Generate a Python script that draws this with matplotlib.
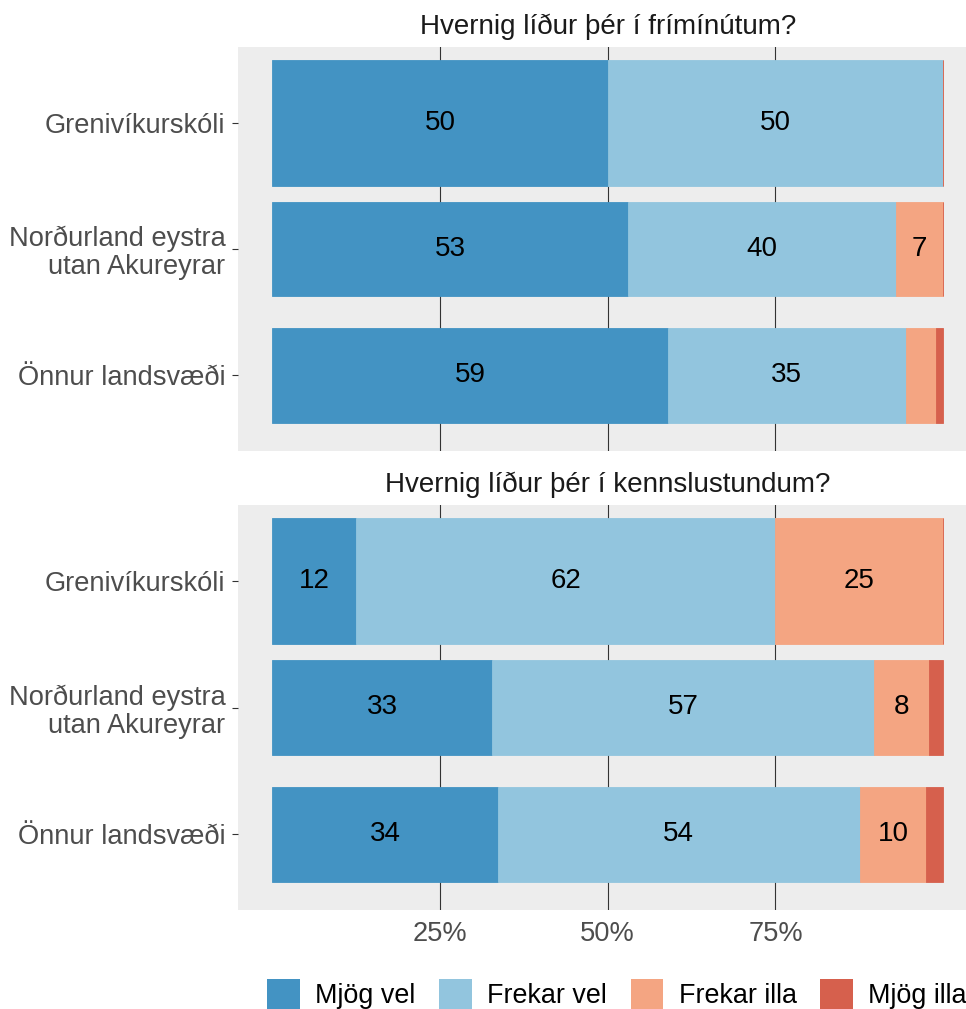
import matplotlib.pyplot as plt
import numpy as np
from matplotlib.patches import Patch
from matplotlib.transforms import blended_transform_factory

# ------------------------------------------------------------
# tvö spurningaspjöld, stöflaðar láréttar súlur (hlutfall %)
# ------------------------------------------------------------

plt.rcParams['font.family'] = ['Liberation Sans', 'DejaVu Sans']

hopar = ['Grenivíkurskóli', 'Norðurland eystra\nutan Akureyrar', 'Önnur landsvæði']
svor = ['Mjög vel', 'Frekar vel', 'Frekar illa', 'Mjög illa']
litir = ['#4393C3', '#92C5DE', '#F4A582', '#D6604D']

spurning1 = 'Hvernig líður þér í frímínútum?'
spurning2 = 'Hvernig líður þér í kennslustundum?'

# hver röð = einn hópur, dálkar = svor
gildi1 = [[50, 50, 0, 0],
          [53, 40, 7, 0],
          [59, 35.4, 4.6, 1.0]]
gildi2 = [[12.5, 62.5, 25, 0],
          [32.7, 57, 8.2, 2.1],
          [33.6, 54, 9.9, 2.5]]

# fyrsta súlan er breiðari á myndinni
breidd = [1.0, 0.75, 0.75]
x_ticks = [25, 50, 75]
x_labels = ['25%', '50%', '75%']

W, H = 966, 1009
fig = plt.figure(figsize=(W/100, H/100), dpi=100)

ax1 = fig.add_axes([238/W, 1-451/H, 1-238/W, 404/H])
ax2 = fig.add_axes([238/W, 1-910/H, 1-238/W, 405/H])

fs = 20
fs_tick = 19.6
grey30 = '#4D4D4D'

def teikna(ax, gildi, titill, syna_x):
    ax.set_facecolor('#EDEDED')
    for s in ax.spines.values():
        s.set_visible(False)
    # lóðréttar línur
    for t in x_ticks:
        ax.axvline(t, color='#333333', lw=0.8, zorder=0)
    y = np.arange(len(hopar))
    gildi = np.array(gildi)
    left = np.zeros(len(hopar))
    for j in range(len(svor)):
        ax.barh(y, gildi[:, j], left=left, height=breidd, color=litir[j],
                edgecolor=litir[j], lw=0.6, zorder=2)
        for i in range(len(hopar)):
            v = gildi[i, j]
            if v >= 5:
                ax.text(left[i]+v/2, y[i], str(int(round(v))), ha='center', va='center',
                        fontsize=fs, color='black', zorder=3)
        left = left + gildi[:, j]
    ax.set_xlim(-5.1, 103.4)
    ax.set_ylim(len(hopar)-0.4, -0.6)
    ax.set_yticks(y)
    ax.set_yticklabels(hopar, fontsize=fs_tick, color=grey30, linespacing=1.1)
    ax.tick_params(axis='y', length=4, width=0.8, color='#333333', pad=5)
    ax.set_xticks(x_ticks)
    if syna_x:
        ax.set_xticklabels(x_labels, fontsize=fs_tick, color=grey30)
        ax.tick_params(axis='x', length=0, pad=8)
    else:
        ax.tick_params(axis='x', length=0, labelbottom=False)
    tr = blended_transform_factory(ax.transData, ax.transAxes)
    ax.text(50, 1.0+20/404, titill, transform=tr, ha='center', va='center',
            fontsize=fs, color='#1A1A1A')

teikna(ax1, gildi1, spurning1, False)
teikna(ax2, gildi2, spurning2, True)

#-------- skýringar neðst --------
handles = [Patch(facecolor=litir[j], edgecolor='none', label=svor[j]) for j in range(len(svor))]
fig.legend(handles=handles, loc='center', bbox_to_anchor=(617/W, 1-994/H), ncol=4,
           frameon=False, fontsize=19.4, handlelength=1.2, handleheight=1.3,
           handletextpad=0.58, columnspacing=0.88, borderpad=0.2)

plt.savefig('out.png', dpi=100)
